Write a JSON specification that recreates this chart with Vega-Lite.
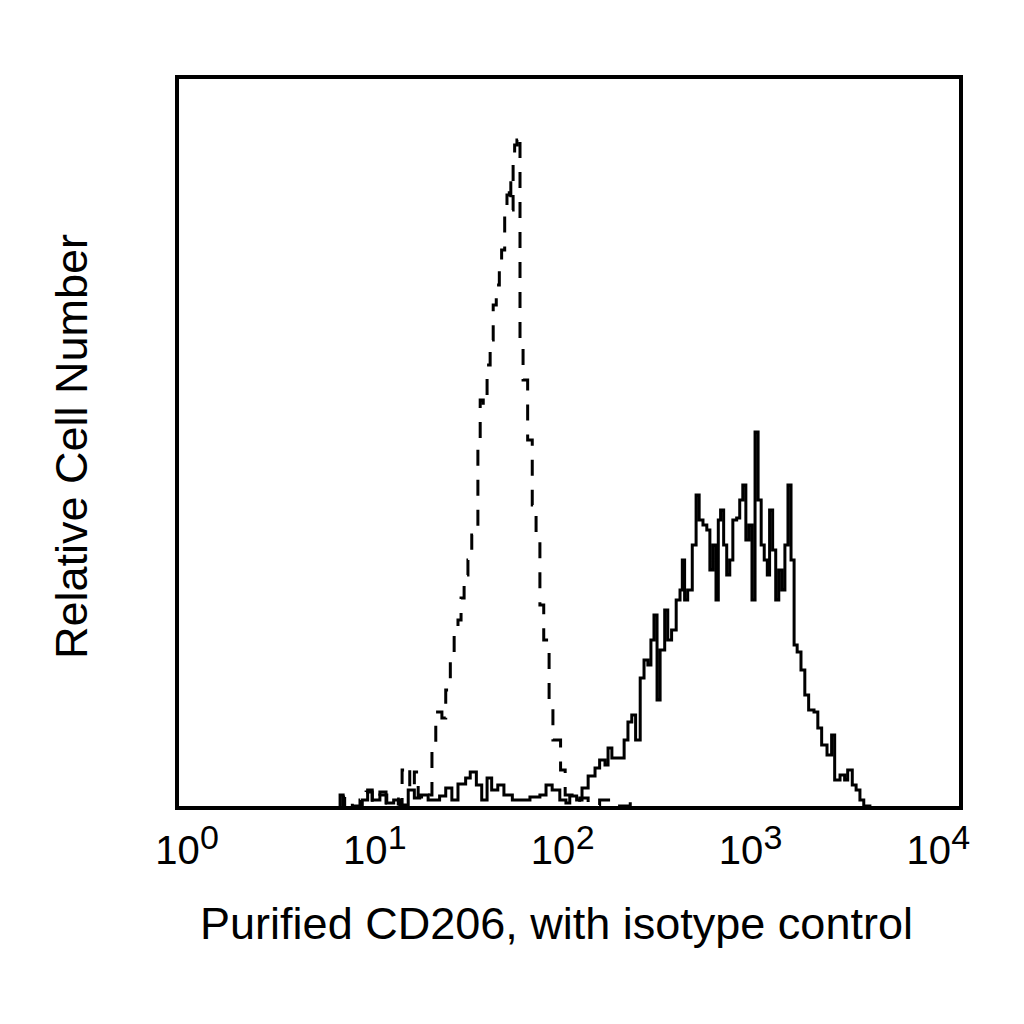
{
  "$schema": "https://vega.github.io/schema/vega-lite/v6.json",
  "autosize": "none",
  "width": 784,
  "height": 731,
  "padding": {"left": 177, "top": 77, "right": 63, "bottom": 216},
  "background": "white",
  "config": {
    "view": {"stroke": "black", "strokeWidth": 4},
    "font": "Liberation Sans"
  },
  "data": {
    "values": [
      {"s": "iso", "ch": 213, "n": 0}, {"s": "iso", "ch": 219, "n": 11}, {"s": "iso", "ch": 229, "n": 2},
      {"s": "iso", "ch": 239, "n": 8}, {"s": "iso", "ch": 247, "n": 16}, {"s": "iso", "ch": 255, "n": 6},
      {"s": "iso", "ch": 265, "n": 13}, {"s": "iso", "ch": 274, "n": 5}, {"s": "iso", "ch": 281, "n": 9},
      {"s": "iso", "ch": 289, "n": 4}, {"s": "iso", "ch": 294, "n": 38}, {"s": "iso", "ch": 299, "n": 42},
      {"s": "iso", "ch": 304, "n": 18}, {"s": "iso", "ch": 310, "n": 36}, {"s": "iso", "ch": 315, "n": 11},
      {"s": "iso", "ch": 323, "n": 8}, {"s": "iso", "ch": 330, "n": 13}, {"s": "iso", "ch": 333, "n": 63},
      {"s": "iso", "ch": 338, "n": 96}, {"s": "iso", "ch": 346, "n": 90}, {"s": "iso", "ch": 351, "n": 118},
      {"s": "iso", "ch": 357, "n": 150}, {"s": "iso", "ch": 362, "n": 178}, {"s": "iso", "ch": 367, "n": 188},
      {"s": "iso", "ch": 371, "n": 210}, {"s": "iso", "ch": 375, "n": 233}, {"s": "iso", "ch": 380, "n": 248},
      {"s": "iso", "ch": 385, "n": 273}, {"s": "iso", "ch": 391, "n": 280}, {"s": "iso", "ch": 393, "n": 368},
      {"s": "iso", "ch": 396, "n": 408}, {"s": "iso", "ch": 400, "n": 403}, {"s": "iso", "ch": 405, "n": 443},
      {"s": "iso", "ch": 409, "n": 468}, {"s": "iso", "ch": 413, "n": 503}, {"s": "iso", "ch": 417, "n": 523},
      {"s": "iso", "ch": 421, "n": 546}, {"s": "iso", "ch": 424, "n": 558}, {"s": "iso", "ch": 428, "n": 593},
      {"s": "iso", "ch": 431, "n": 613}, {"s": "iso", "ch": 434, "n": 628}, {"s": "iso", "ch": 436, "n": 598},
      {"s": "iso", "ch": 439, "n": 648}, {"s": "iso", "ch": 441, "n": 663}, {"s": "iso", "ch": 444, "n": 668},
      {"s": "iso", "ch": 447, "n": 673}, {"s": "iso", "ch": 448, "n": 463}, {"s": "iso", "ch": 452, "n": 428},
      {"s": "iso", "ch": 458, "n": 368}, {"s": "iso", "ch": 464, "n": 303}, {"s": "iso", "ch": 469, "n": 268},
      {"s": "iso", "ch": 474, "n": 203}, {"s": "iso", "ch": 479, "n": 168}, {"s": "iso", "ch": 486, "n": 108},
      {"s": "iso", "ch": 491, "n": 68}, {"s": "iso", "ch": 501, "n": 38}, {"s": "iso", "ch": 507, "n": 13},
      {"s": "iso", "ch": 516, "n": 6}, {"s": "iso", "ch": 526, "n": 10}, {"s": "iso", "ch": 537, "n": 3},
      {"s": "iso", "ch": 552, "n": 8}, {"s": "iso", "ch": 566, "n": 2}, {"s": "iso", "ch": 592, "n": 7},
      {"s": "iso", "ch": 599, "n": 0},

      {"s": "cd206", "ch": 210, "n": 0}, {"s": "cd206", "ch": 213, "n": 13}, {"s": "cd206", "ch": 217, "n": 0},
      {"s": "cd206", "ch": 232, "n": 0}, {"s": "cd206", "ch": 242, "n": 8}, {"s": "cd206", "ch": 249, "n": 18},
      {"s": "cd206", "ch": 255, "n": 8}, {"s": "cd206", "ch": 265, "n": 16}, {"s": "cd206", "ch": 273, "n": 5},
      {"s": "cd206", "ch": 283, "n": 8}, {"s": "cd206", "ch": 291, "n": 3}, {"s": "cd206", "ch": 302, "n": 18},
      {"s": "cd206", "ch": 310, "n": 10}, {"s": "cd206", "ch": 317, "n": 13}, {"s": "cd206", "ch": 328, "n": 8},
      {"s": "cd206", "ch": 343, "n": 12}, {"s": "cd206", "ch": 351, "n": 20}, {"s": "cd206", "ch": 359, "n": 8},
      {"s": "cd206", "ch": 367, "n": 24}, {"s": "cd206", "ch": 377, "n": 30}, {"s": "cd206", "ch": 383, "n": 36},
      {"s": "cd206", "ch": 391, "n": 23}, {"s": "cd206", "ch": 398, "n": 8}, {"s": "cd206", "ch": 405, "n": 30},
      {"s": "cd206", "ch": 411, "n": 18}, {"s": "cd206", "ch": 419, "n": 23}, {"s": "cd206", "ch": 427, "n": 13},
      {"s": "cd206", "ch": 438, "n": 8}, {"s": "cd206", "ch": 448, "n": 8}, {"s": "cd206", "ch": 461, "n": 11},
      {"s": "cd206", "ch": 474, "n": 13}, {"s": "cd206", "ch": 482, "n": 23}, {"s": "cd206", "ch": 490, "n": 18},
      {"s": "cd206", "ch": 500, "n": 8}, {"s": "cd206", "ch": 508, "n": 5}, {"s": "cd206", "ch": 513, "n": 12},
      {"s": "cd206", "ch": 522, "n": 8}, {"s": "cd206", "ch": 529, "n": 20}, {"s": "cd206", "ch": 537, "n": 32},
      {"s": "cd206", "ch": 546, "n": 40}, {"s": "cd206", "ch": 552, "n": 48}, {"s": "cd206", "ch": 559, "n": 43},
      {"s": "cd206", "ch": 563, "n": 60}, {"s": "cd206", "ch": 568, "n": 50}, {"s": "cd206", "ch": 579, "n": 50},
      {"s": "cd206", "ch": 584, "n": 68}, {"s": "cd206", "ch": 589, "n": 86}, {"s": "cd206", "ch": 594, "n": 93},
      {"s": "cd206", "ch": 599, "n": 68}, {"s": "cd206", "ch": 605, "n": 130}, {"s": "cd206", "ch": 610, "n": 148},
      {"s": "cd206", "ch": 615, "n": 143}, {"s": "cd206", "ch": 619, "n": 168}, {"s": "cd206", "ch": 623, "n": 193},
      {"s": "cd206", "ch": 627, "n": 108}, {"s": "cd206", "ch": 631, "n": 158}, {"s": "cd206", "ch": 637, "n": 198},
      {"s": "cd206", "ch": 641, "n": 168}, {"s": "cd206", "ch": 646, "n": 178}, {"s": "cd206", "ch": 652, "n": 208},
      {"s": "cd206", "ch": 657, "n": 218}, {"s": "cd206", "ch": 660, "n": 248}, {"s": "cd206", "ch": 663, "n": 208},
      {"s": "cd206", "ch": 667, "n": 218}, {"s": "cd206", "ch": 673, "n": 263}, {"s": "cd206", "ch": 678, "n": 313},
      {"s": "cd206", "ch": 682, "n": 288}, {"s": "cd206", "ch": 687, "n": 283}, {"s": "cd206", "ch": 692, "n": 278},
      {"s": "cd206", "ch": 696, "n": 238}, {"s": "cd206", "ch": 700, "n": 263}, {"s": "cd206", "ch": 704, "n": 208},
      {"s": "cd206", "ch": 707, "n": 288}, {"s": "cd206", "ch": 710, "n": 298}, {"s": "cd206", "ch": 714, "n": 263},
      {"s": "cd206", "ch": 718, "n": 233}, {"s": "cd206", "ch": 722, "n": 248}, {"s": "cd206", "ch": 726, "n": 288},
      {"s": "cd206", "ch": 731, "n": 290}, {"s": "cd206", "ch": 735, "n": 308}, {"s": "cd206", "ch": 739, "n": 323},
      {"s": "cd206", "ch": 743, "n": 268}, {"s": "cd206", "ch": 747, "n": 283}, {"s": "cd206", "ch": 751, "n": 208},
      {"s": "cd206", "ch": 755, "n": 376}, {"s": "cd206", "ch": 759, "n": 308}, {"s": "cd206", "ch": 763, "n": 263},
      {"s": "cd206", "ch": 767, "n": 248}, {"s": "cd206", "ch": 771, "n": 233}, {"s": "cd206", "ch": 774, "n": 298},
      {"s": "cd206", "ch": 778, "n": 258}, {"s": "cd206", "ch": 782, "n": 208}, {"s": "cd206", "ch": 786, "n": 238},
      {"s": "cd206", "ch": 790, "n": 218}, {"s": "cd206", "ch": 794, "n": 263}, {"s": "cd206", "ch": 798, "n": 323},
      {"s": "cd206", "ch": 802, "n": 248}, {"s": "cd206", "ch": 806, "n": 163}, {"s": "cd206", "ch": 810, "n": 156},
      {"s": "cd206", "ch": 815, "n": 138}, {"s": "cd206", "ch": 820, "n": 113}, {"s": "cd206", "ch": 825, "n": 98},
      {"s": "cd206", "ch": 832, "n": 96}, {"s": "cd206", "ch": 837, "n": 80}, {"s": "cd206", "ch": 842, "n": 63},
      {"s": "cd206", "ch": 849, "n": 53}, {"s": "cd206", "ch": 855, "n": 73}, {"s": "cd206", "ch": 859, "n": 28},
      {"s": "cd206", "ch": 866, "n": 33}, {"s": "cd206", "ch": 872, "n": 28}, {"s": "cd206", "ch": 876, "n": 38},
      {"s": "cd206", "ch": 882, "n": 23}, {"s": "cd206", "ch": 887, "n": 18}, {"s": "cd206", "ch": 892, "n": 8},
      {"s": "cd206", "ch": 897, "n": 2}, {"s": "cd206", "ch": 905, "n": 0}
    ]
  },
  "layer": [
    {
      "transform": [{"filter": "datum.s === 'iso'"}],
      "mark": {"type": "line", "interpolate": "step-after", "color": "black", "strokeWidth": 3, "strokeDash": [16, 14]},
      "encoding": {
        "x": {
          "field": "ch",
          "type": "quantitative",
          "scale": {"domain": [0, 1024], "nice": false, "zero": false},
          "axis": {
            "orient": "bottom",
            "values": [0, 256, 512, 768, 1024],
            "labelExpr": "'10'",
            "domain": false,
            "ticks": false,
            "tickSize": 0,
            "grid": false,
            "labelFont": "Liberation Sans",
            "labelFontSize": 40,
            "labelColor": "black",
            "labelBaseline": "alphabetic",
            "labelAlign": "center",
            "labelPadding": 55,
            "labelOffset": {"expr": "-0.032 * datum.value"},
            "labelFlush": false,
            "labelOverlap": false,
            "labelBound": false,
            "title": "Purified CD206, with isotype control",
            "titleFont": "Liberation Sans",
            "titleFontSize": 45,
            "titleFontWeight": "normal",
            "titleColor": "black",
            "titleBaseline": "alphabetic",
            "titleAlign": "center",
            "titleX": 379,
            "titleY": 130
          }
        },
        "y": {
          "field": "n",
          "type": "quantitative",
          "scale": {"domain": [0, 731], "nice": false},
          "axis": {
            "labels": false,
            "ticks": false,
            "domain": false,
            "grid": false,
            "title": "Relative Cell Number",
            "titleFont": "Liberation Sans",
            "titleFontSize": 45,
            "titleFontWeight": "normal",
            "titleColor": "black",
            "titleAngle": -90,
            "titleBaseline": "alphabetic",
            "titleAlign": "center",
            "titleX": -91,
            "titleY": 369
          }
        }
      }
    },
    {
      "transform": [{"filter": "datum.s === 'cd206'"}],
      "mark": {"type": "line", "interpolate": "step-after", "color": "black", "strokeWidth": 3},
      "encoding": {
        "x": {
          "field": "ch",
          "type": "quantitative",
          "scale": {"domain": [0, 1024], "nice": false, "zero": false},
          "axis": {
            "orient": "bottom",
            "values": [0, 256, 512, 768, 1024],
            "labelExpr": "format(datum.value / 256, 'd')",
            "domain": false,
            "ticks": false,
            "tickSize": 0,
            "grid": false,
            "labelFont": "Liberation Sans",
            "labelFontSize": 34,
            "labelColor": "black",
            "labelBaseline": "alphabetic",
            "labelAlign": "center",
            "labelPadding": 40,
            "labelOffset": {"expr": "32 - 0.032 * datum.value"},
            "labelFlush": false,
            "labelOverlap": false,
            "labelBound": false,
            "title": null
          }
        },
        "y": {
          "field": "n",
          "type": "quantitative",
          "scale": {"domain": [0, 731], "nice": false},
          "axis": {
            "labels": false,
            "ticks": false,
            "domain": false,
            "grid": false,
            "title": "Relative Cell Number",
            "titleFont": "Liberation Sans",
            "titleFontSize": 45,
            "titleFontWeight": "normal",
            "titleColor": "black",
            "titleAngle": -90,
            "titleBaseline": "alphabetic",
            "titleAlign": "center",
            "titleX": -91,
            "titleY": 369
          }
        }
      }
    }
  ],
  "resolve": {"axis": {"x": "independent"}}
}
